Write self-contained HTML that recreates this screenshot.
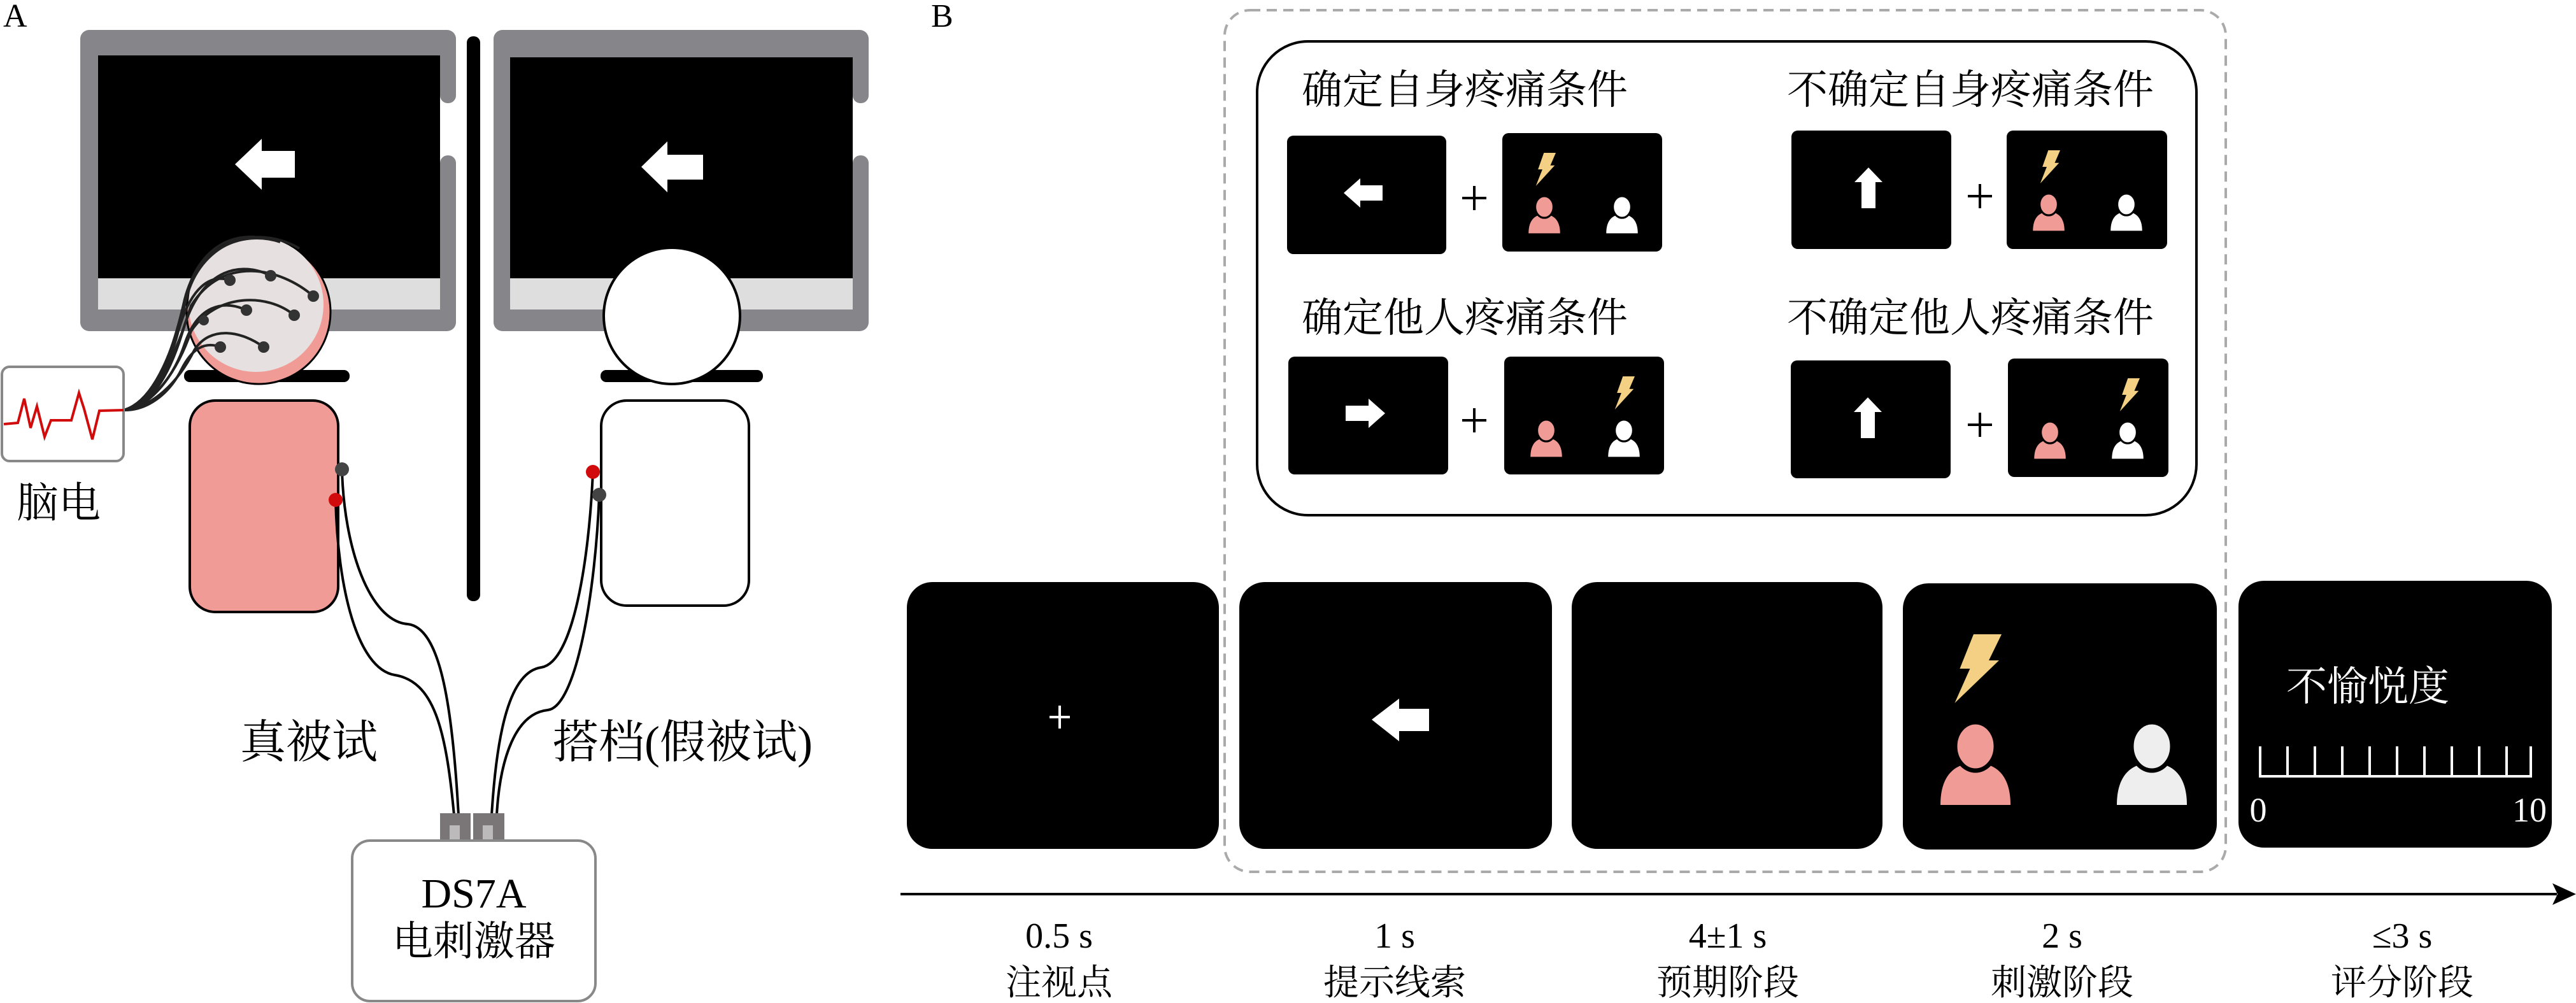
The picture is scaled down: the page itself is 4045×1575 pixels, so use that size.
<!DOCTYPE html>
<html><head><meta charset="utf-8"><style>
html,body{margin:0;padding:0;background:#fff;}
svg{display:block;}
.cj{font-family:"Liberation Serif","Noto Serif CJK SC",serif;}
</style></head><body>
<svg width="4045" height="1575" viewBox="0 0 4045 1575" xmlns="http://www.w3.org/2000/svg">
<defs>
<path id="bolt" d="M0.45,0 L1,0 L0.75,0.38 L0.95,0.38 L0.08,1 L0.38,0.5 L0.18,0.5 Z" fill="#f3d083"/>
<g id="person"><path d="M-55 92 C-55 45 -32 26 0 26 C32 26 55 45 55 92 Z"/><ellipse cx="0" cy="0" rx="32" ry="38" stroke="#000" stroke-width="7"/></g>
</defs>
<!-- Panel A -->
<text x="5" y="42" font-family="Liberation Serif,serif" font-size="52">A</text>
<!-- left monitor -->
<rect x="126" y="47" width="590" height="473" rx="14" fill="#86858a"/>
<rect x="154" y="87" width="537" height="350" fill="#000"/>
<rect x="154" y="437" width="537" height="49" fill="#dededf"/>
<rect x="691" y="150" width="30" height="106" fill="#fff"/>
<rect x="691" y="120" width="25" height="42" rx="12" fill="#86858a"/>
<rect x="691" y="244" width="25" height="42" rx="12" fill="#86858a"/>
<rect x="289" y="581" width="260" height="19" rx="9" fill="#000"/>
<!-- right monitor -->
<rect x="775" y="47" width="589" height="473" rx="14" fill="#86858a"/>
<rect x="801" y="90" width="538" height="347" fill="#000"/>
<rect x="801" y="437" width="538" height="49" fill="#dededf"/>
<rect x="1339" y="150" width="30" height="106" fill="#fff"/>
<rect x="1339" y="120" width="25" height="42" rx="12" fill="#86858a"/>
<rect x="1339" y="244" width="25" height="42" rx="12" fill="#86858a"/>
<rect x="943" y="581" width="255" height="19" rx="9" fill="#000"/>
<!-- divider -->
<rect x="733" y="57" width="21" height="887" rx="10" fill="#000"/>
<!-- arrows -->
<path d="M369 258 L411 218 L411 237 L463 237 L463 279 L411 279 L411 298 Z" fill="#fff"/>
<path d="M1007 262 L1048 222 L1048 243 L1104 243 L1104 282 L1048 282 L1048 302 Z" fill="#fff"/>
<!-- left head -->
<circle cx="406" cy="490" r="113" fill="#f09b95" stroke="#000" stroke-width="3"/>
<circle cx="402" cy="478" r="106" fill="#e6e0e0"/>
<g stroke="#222" stroke-width="4" fill="none">
<path d="M361 440 C330 430 300 450 280 520 C265 580 230 640 194 644"/>
<path d="M425 433 C380 410 320 420 290 510 C270 580 240 640 194 644"/>
<path d="M492 465 C440 420 350 400 300 480 C275 560 240 640 194 644"/>
<path d="M387 487 C350 470 310 480 290 540 C270 600 230 640 194 644"/>
<path d="M462 495 C420 460 340 460 300 520 C280 580 240 640 194 644"/>
<path d="M414 545 C380 520 330 510 305 550 C280 600 240 640 194 644"/>
<path d="M346 545 C320 535 300 550 285 580 C265 620 230 645 194 644"/>
<path d="M440 380 C380 360 310 390 290 470 C272 550 245 630 194 644"/>
<path d="M470 390 C400 350 320 380 295 460 C275 540 245 630 194 644"/>
<path d="M400 372 C350 370 305 400 288 480 C270 560 240 635 194 644"/>
</g>
<g fill="#333"><circle cx="361" cy="440" r="9"/><circle cx="425" cy="433" r="9"/><circle cx="492" cy="465" r="9"/><circle cx="387" cy="487" r="9"/><circle cx="462" cy="495" r="9"/><circle cx="414" cy="545" r="9"/><circle cx="346" cy="545" r="9"/><circle cx="320" cy="503" r="8"/></g>
<!-- right head -->
<circle cx="1055" cy="496" r="107" fill="#fff" stroke="#000" stroke-width="4"/>
<!-- bodies -->
<rect x="298" y="629" width="233" height="332" rx="40" fill="#f09b95" stroke="#000" stroke-width="4"/>
<rect x="944" y="629" width="232" height="322" rx="40" fill="#fff" stroke="#000" stroke-width="4"/>
<!-- cables to stimulator -->
<g stroke="#000" stroke-width="4" fill="none">
<path d="M537 737 C540 860 580 975 640 980 C690 985 710 1100 720 1280"/>
<path d="M527 785 C530 920 560 1050 620 1060 C680 1070 700 1140 713 1280"/>
<path d="M931 741 C925 880 900 1040 850 1048 C800 1055 780 1150 772 1280"/>
<path d="M941 777 C935 930 905 1110 860 1115 C810 1120 785 1190 780 1280"/>
</g>
<circle cx="537" cy="737" r="11" fill="#444"/>
<circle cx="527" cy="785" r="11" fill="#d10b0b"/>
<circle cx="931" cy="741" r="11" fill="#d10b0b"/>
<circle cx="941" cy="777" r="11" fill="#444"/>
<!-- EEG box -->
<rect x="3" y="576" width="191" height="148" rx="12" fill="#fff" stroke="#888" stroke-width="4"/>
<path d="M6 666 L28 664 L38 626 L48 672 L58 638 L70 686 L80 660 L112 660 L124 617 L132 642 L145 690 L156 645 L194 644" stroke="#d10b0b" stroke-width="4" fill="none"/>
<text x="26" y="812" class="cj" font-size="66">脑电</text>
<text x="593" y="1190" class="cj" font-size="72" text-anchor="end">真被试</text>
<text x="1276" y="1190" class="cj" font-size="72" text-anchor="end">搭档(假被试)</text>
<!-- stimulator -->
<rect x="691" y="1277" width="48" height="43" fill="#7a7576"/>
<rect x="706" y="1296" width="16" height="24" fill="#bdbabc"/>
<rect x="743" y="1277" width="49" height="43" fill="#7a7576"/>
<rect x="758" y="1296" width="16" height="24" fill="#bdbabc"/>
<rect x="553" y="1320" width="382" height="252" rx="28" fill="#fff" stroke="#888" stroke-width="4"/>
<text x="744" y="1425" text-anchor="middle" font-family="Liberation Serif,serif" font-size="66">DS7A</text>
<text x="744" y="1500" text-anchor="middle" class="cj" font-size="64">电刺激器</text>

<!-- Panel B -->
<text x="1462" y="42" font-family="Liberation Serif,serif" font-size="52">B</text>
<rect x="1923" y="16" width="1572" height="1353" rx="40" fill="none" stroke="#aaa" stroke-width="4" stroke-dasharray="16 10"/>
<rect x="1974" y="65" width="1475" height="744" rx="80" fill="#fff" stroke="#000" stroke-width="4"/>
<g class="cj" font-size="64">
<text x="2044" y="163">确定自身疼痛条件</text>
<text x="2806" y="163">不确定自身疼痛条件</text>
<text x="2044" y="521">确定他人疼痛条件</text>
<text x="2806" y="521">不确定他人疼痛条件</text>
</g>
<!-- small screens -->
<g fill="#000">
<rect x="2021" y="213" width="250" height="186" rx="10"/>
<rect x="2359" y="209" width="251" height="186" rx="10"/>
<rect x="2813" y="205" width="251" height="186" rx="10"/>
<rect x="3151" y="205" width="252" height="186" rx="10"/>
<rect x="2023" y="560" width="251" height="185" rx="10"/>
<rect x="2362" y="560" width="251" height="185" rx="10"/>
<rect x="2812" y="566" width="251" height="185" rx="10"/>
<rect x="3153" y="563" width="252" height="186" rx="10"/>
</g>
<g stroke="#000" stroke-width="4">
<path d="M2296 311 H2334 M2315 292 V330"/>
<path d="M3090 308 H3128 M3109 289 V327"/>
<path d="M2296 660 H2334 M2315 641 V679"/>
<path d="M3090 667 H3128 M3109 648 V686"/>
</g>
<!-- cue arrows -->
<path d="M2110 303 L2136 280 L2136 291 L2171 291 L2171 315 L2136 315 L2136 326 Z" fill="#fff"/>
<path d="M2175 649 L2149 626 L2149 637 L2113 637 L2113 661 L2149 661 L2149 672 Z" fill="#fff"/>
<path d="M2934 263 L2956 286 L2945 286 L2945 327 L2923 327 L2923 286 L2912 286 Z" fill="#fff"/>
<path d="M2933 624 L2955 647 L2944 647 L2944 688 L2922 688 L2922 647 L2911 647 Z" fill="#fff"/>
<!-- small stim content -->
<use href="#bolt" transform="translate(2409,240) scale(34,52)"/>
<use href="#bolt" transform="translate(3201,236) scale(34,52)"/>
<use href="#bolt" transform="translate(2533,591) scale(34,52)"/>
<use href="#bolt" transform="translate(3326,594) scale(34,52)"/>
<use href="#person" fill="#f09b95" transform="translate(2425,325) scale(0.45)"/>
<use href="#person" fill="#fff" transform="translate(2547,325) scale(0.45)"/>
<use href="#person" fill="#f09b95" transform="translate(3217,321) scale(0.45)"/>
<use href="#person" fill="#fff" transform="translate(3339,321) scale(0.45)"/>
<use href="#person" fill="#f09b95" transform="translate(2428,676) scale(0.45)"/>
<use href="#person" fill="#fff" transform="translate(2550,676) scale(0.45)"/>
<use href="#person" fill="#f09b95" transform="translate(3219,679) scale(0.45)"/>
<use href="#person" fill="#fff" transform="translate(3341,679) scale(0.45)"/>

<!-- timeline screens -->
<g fill="#000">
<rect x="1424" y="914" width="490" height="419" rx="40"/>
<rect x="1946" y="914" width="491" height="419" rx="40"/>
<rect x="2468" y="914" width="488" height="419" rx="40"/>
<rect x="2988" y="916" width="493" height="418" rx="40"/>
<rect x="3515" y="912" width="492" height="419" rx="40"/>
</g>
<path d="M1648 1126 H1680 M1664 1108 V1144" stroke="#fff" stroke-width="4"/>
<path d="M2154 1130 L2197 1097 L2197 1113 L2244 1113 L2244 1148 L2197 1148 L2197 1164 Z" fill="#fff"/>
<use href="#bolt" transform="translate(3063,996) scale(80,108)"/>
<use href="#person" fill="#f09b95" transform="translate(3102,1172)"/>
<use href="#person" fill="#eeeeee" transform="translate(3379,1172)"/>
<text x="3590" y="1100" class="cj" font-size="64" fill="#fff">不愉悦度</text>
<g stroke="#fff" stroke-width="4">
<path d="M3547 1219 H3976"/>
<path d="M3549 1172V1219 M3592 1172V1219 M3635 1172V1219 M3678 1172V1219 M3721 1172V1219 M3764 1172V1219 M3807 1172V1219 M3850 1172V1219 M3893 1172V1219 M3936 1172V1219 M3974 1172V1219"/>
</g>
<text x="3546" y="1290" text-anchor="middle" font-family="Liberation Serif,serif" font-size="54" fill="#fff">0</text>
<text x="3972" y="1290" text-anchor="middle" font-family="Liberation Serif,serif" font-size="54" fill="#fff">10</text>
<!-- timeline axis -->
<path d="M1414 1404 H4015" stroke="#000" stroke-width="4"/>
<path d="M4045 1404 L4008 1387 L4016 1404 L4008 1421 Z" fill="#000"/>
<g class="cj" font-size="56" text-anchor="middle">
<text x="1663" y="1488">0.5 s</text><text x="1663" y="1562">注视点</text>
<text x="2190" y="1488">1 s</text><text x="2190" y="1562">提示线索</text>
<text x="2713" y="1488">4±1 s</text><text x="2713" y="1562">预期阶段</text>
<text x="3238" y="1488">2 s</text><text x="3238" y="1562">刺激阶段</text>
<text x="3772" y="1488">≤3 s</text><text x="3772" y="1562">评分阶段</text>
</g>
</svg>
</body></html>
